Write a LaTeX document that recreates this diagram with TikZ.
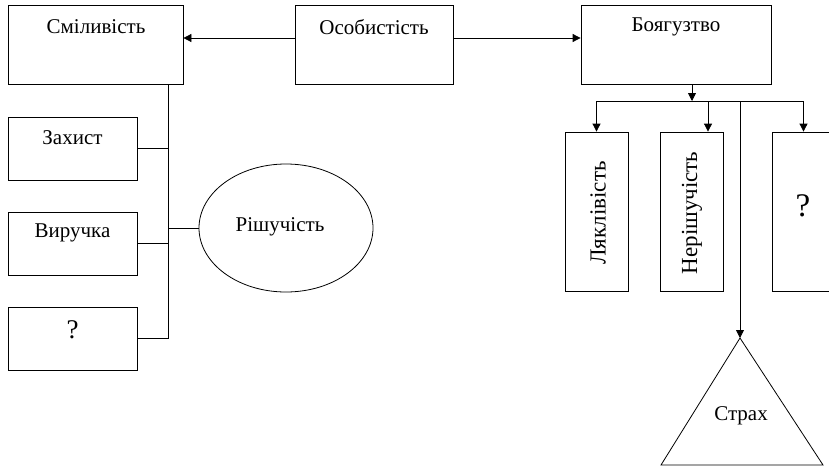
\documentclass[tikz,border=0pt]{standalone}
\usepackage{fontspec}
\setmainfont{Liberation Serif}
\usetikzlibrary{arrows.meta,shapes.geometric}

\tikzset{
  box/.style={draw,thick,rectangle,inner sep=0pt},
  arr/.style={-{Triangle[length=8pt,width=8pt]}},
  lbl/.style={font=\fontsize{21}{24}\selectfont,inner sep=0pt}
}

\begin{document}
\begin{tikzpicture}[x=1pt,y=-1pt,thick]
        \useasboundingbox (0,0) rectangle (829,466);
        % top row
        \node[box,minimum width=175,minimum height=79] (smil) at (95.5,44.5) {};
        \node[box,minimum width=158,minimum height=79] (osob) at (374,44.5) {};
        \node[box,minimum width=190,minimum height=79] (boya) at (676,44.5) {};
        \node[lbl] (smilt) at (96,27) {Сміливість};
        \node[lbl] (osobt) at (374,27) {Особистість};
        \node[lbl] (boyat) at (676,27) {Боягузтво};
        \draw[arr] ([yshift=6.5pt]osob.west) -- ([yshift=6.5pt]smil.east);
        \draw[arr] ([yshift=6.5pt]osob.east) -- ([yshift=6.5pt]boya.west);
        % left branch
        \node[box,minimum width=129,minimum height=63] (zakh) at (72.5,148.5) {};
        \node[box,minimum width=129,minimum height=63] (vyru) at (72.5,243.5) {};
        \node[box,minimum width=129,minimum height=63] (qleft) at (72.5,338.5) {};
        \node[lbl] (zakht) at (72.5,138) {Захист};
        \node[lbl] (vyrut) at (72.5,233) {Виручка};
        \node[lbl,font=\fontsize{27}{30}\selectfont] (qleftt) at (72.5,330) {?};
        \node[draw,thick,ellipse,minimum width=174,minimum height=128] (rish) at (286,228) {};
        \node[lbl] (risht) at (280,227) {Рішучість};
        \coordinate (spine) at (168,338.5);
        \draw (smil.south -| spine) -- (spine) -- (qleft.east);
        \draw (zakh.east) -- (zakh.east -| spine);
        \draw (vyru.east) -- (vyru.east -| spine);
        \draw (rish.west) -- (rish.west -| spine);
        % right branch
        \node[box,minimum width=63,minimum height=159] (lyak) at (596.5,211.5) {};
        \node[box,minimum width=63,minimum height=159] (neri) at (691.5,211.5) {};
        \node[box,minimum width=63,minimum height=159] (qright) at (803.5,211.5) {};
        \node[lbl,rotate=90,font=\fontsize{23}{26}\selectfont] (lyakt) at (598,213) {Ляклівість};
        \node[lbl,rotate=90,font=\fontsize{23}{26}\selectfont] (nerit) at (692,213) {Нерішучість};
        \node[lbl,font=\fontsize{33}{36}\selectfont] (qrightt) at (803,206) {?};
        \coordinate (bus) at (692,101);
        \coordinate (apex) at (740,338);
        \draw[arr] (boya.south -| bus) -- (bus);
        \draw (lyak.north |- bus) -- (qright.north |- bus);
        \draw[arr] (lyak.north |- bus) -- (lyak.north);
        \draw[arr] ([xshift=16.5pt]neri.north |- bus) -- ([xshift=16.5pt]neri.north);
        \draw[arr] (qright.north |- bus) -- (qright.north);
        \draw[arr] (apex |- bus) -- (apex);
        % fear
        \draw (apex) -- (661,465) -- (823,465) -- cycle;
        \node[lbl] (strakh) at (741,416) {Страх};
    \end{tikzpicture}
\end{document}
